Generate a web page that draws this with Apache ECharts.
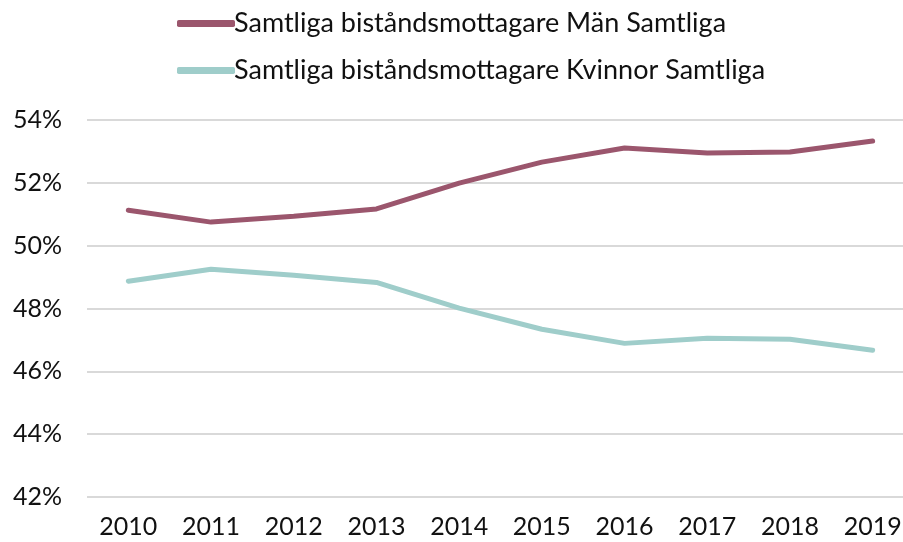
<!DOCTYPE html>
<html>
<head>
<meta charset="utf-8">
<script src="https://cdn.jsdelivr.net/npm/echarts@6/dist/echarts.min.js"></script>
<style>
  html, body { margin: 0; padding: 0; background: #fff; }
  #chart { width: 903px; height: 542px; }
</style>
</head>
<body>
<div id="chart"></div>
<script>
// år på x-axeln
var years = ['2010', '2011', '2012', '2013', '2014', '2015', '2016', '2017', '2018', '2019'];
// andel i procent
var man = [51.13, 50.75, 50.94, 51.17, 51.99, 52.66, 53.11, 52.95, 52.98, 53.33];
var kvinnor = [48.87, 49.25, 49.06, 48.83, 48.01, 47.34, 46.89, 47.05, 47.02, 46.67];
var seriesNames = ['Samtliga biståndsmottagare Män Samtliga', 'Samtliga biståndsmottagare Kvinnor Samtliga'];

var font = 'Lato, "Noto Sans", sans-serif';
var chart = echarts.init(document.getElementById('chart'));
chart.setOption({
  animation: false,
  legend: {
    orient: 'vertical',
    left: 172,
    top: 5,
    itemGap: 20,
    itemWidth: 58,
    itemHeight: 7,
    icon: 'roundRect',
    textStyle: { fontFamily: font, fontSize: 27, color: '#111', padding: [0, 0, 0, -6] },
    data: seriesNames
  },
  // plottytan går lite utanför bilden till höger, som i originalet
  grid: { left: 87, top: 120, right: -11, bottom: 45, outerBoundsMode: 'none', containLabel: false },
  xAxis: {
    type: 'category',
    data: years,
    axisLine: { show: false },
    axisTick: { show: false },
    axisLabel: { fontFamily: font, fontSize: 25, color: '#111', margin: 17 }
  },
  yAxis: {
    type: 'value',
    min: 42,
    max: 54,
    interval: 2,
    axisLine: { show: false },
    axisTick: { show: false },
    splitLine: { lineStyle: { color: '#d9d9d9', width: 2 } },
    axisLabel: { fontFamily: font, fontSize: 25, color: '#111', margin: 25, formatter: '{value}%' }
  },
  series: [
    {
      name: seriesNames[0], type: 'line', data: man, symbol: 'none',
      itemStyle: { color: '#9b566d' },
      lineStyle: { width: 5, color: '#9b566d', cap: 'round' }
    },
    {
      name: seriesNames[1], type: 'line', data: kvinnor, symbol: 'none',
      itemStyle: { color: '#9fcdca' },
      lineStyle: { width: 5, color: '#9fcdca', cap: 'round' }
    }
  ]
});
</script>
</body>
</html>
